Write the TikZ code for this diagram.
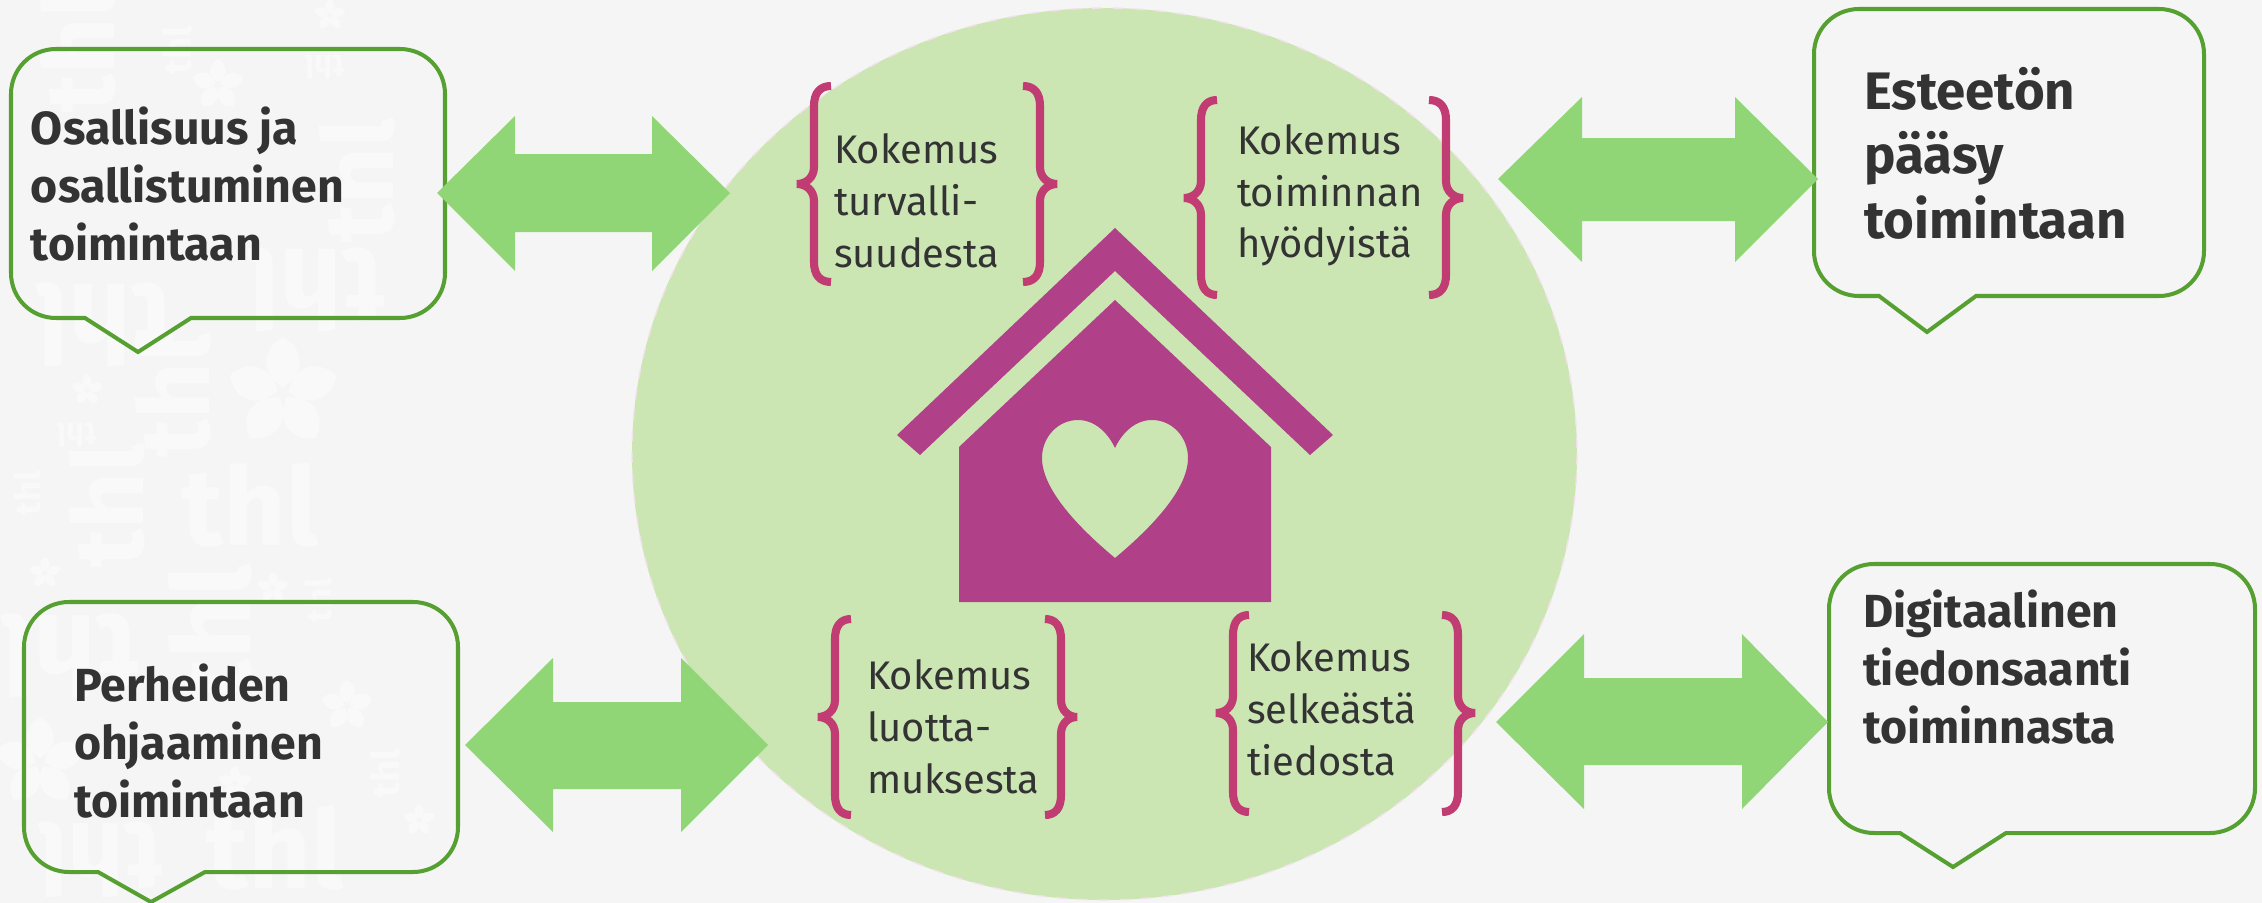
\documentclass[tikz,border=0pt]{standalone}
\usepackage{fontspec}
\setmainfont{Fira Sans}
\definecolor{pagebg}{HTML}{F5F5F5}
\definecolor{wmark}{HTML}{F9F9F9}
\definecolor{discfill}{HTML}{CBE6B3}
\definecolor{discedge}{HTML}{F3E2EC}
\definecolor{housecol}{HTML}{B04087}
\definecolor{bracecol}{HTML}{C23C74}
\definecolor{arrowcol}{HTML}{91D676}
\definecolor{bubblecol}{HTML}{55A030}
\definecolor{inkcol}{HTML}{333333}
\tikzset{
  x=0.01cm,y=-0.01cm,
  bubble/.style={draw=bubblecol,line width=1.14pt,line join=miter},
  blockarrow/.style={fill=arrowcol,draw=none},
  bracestroke/.style={draw=bracecol,line width=2.3pt,line join=bevel,line cap=butt},
  boldtext/.style={anchor=base west,inner sep=0pt,outer sep=0pt,align=left,text=inkcol,
    font=\bfseries\fontsize{13.2}{16.4}\selectfont},
  bigboldtext/.style={anchor=base west,inner sep=0pt,outer sep=0pt,align=left,text=inkcol,
    font=\bfseries\fontsize{15}{18.2}\selectfont},
  plaintext/.style={anchor=base west,inner sep=0pt,outer sep=0pt,align=left,text=inkcol,
    font=\fontsize{11.35}{14.7}\selectfont},
}
% #1 x1 #2 y1 #3 x2 #4 y2 #5 tail left #6 tail right #7 tip x #8 tip y
\newcommand{\speechbox}[8]{%
  \pgfmathsetmacro{\ra}{45}\pgfmathsetmacro{\ca}{20}%
  \pgfmathsetmacro{\xa}{#1+\ra}\pgfmathsetmacro{\xb}{#3-\ra}%
  \pgfmathsetmacro{\ya}{#2+\ra}\pgfmathsetmacro{\yb}{#4-\ra}%
  \pgfmathsetmacro{\xc}{#1+\ca}\pgfmathsetmacro{\xd}{#3-\ca}%
  \pgfmathsetmacro{\yc}{#2+\ca}\pgfmathsetmacro{\yd}{#4-\ca}%
  \draw[bubble] (#5,#4) -- (#7,#8) -- (#6,#4) -- (\xb,#4)
    .. controls (\xd,#4) and (#3,\yd) .. (#3,\yb) -- (#3,\ya)
    .. controls (#3,\yc) and (\xd,#2) .. (\xb,#2) -- (\xa,#2)
    .. controls (\xc,#2) and (#1,\yc) .. (#1,\ya) -- (#1,\yb)
    .. controls (#1,\yd) and (\xc,#4) .. (\xa,#4) -- cycle;}
% #1 left tip #2 left notch #3 right notch #4 right tip #5 mid y #6 top #7 bottom #8 shaft top #9 shaft bottom
\newcommand{\twoway}[9]{%
  \fill[blockarrow] (#1,#5) -- (#2,#6) -- (#2,#8) -- (#3,#8) -- (#3,#6) -- (#4,#5)
    -- (#3,#7) -- (#3,#9) -- (#2,#9) -- (#2,#7) -- cycle;}
% #1 end x #2 spine x #3 tip x #4 top y #5 mid y #6 bottom y
\newcommand{\curly}[6]{%
  \pgfmathsetmacro{\ha}{#2+0.35*(#1-#2)}\pgfmathsetmacro{\hb}{#2+0.5*(#3-#2)}%
  \pgfmathsetmacro{\ua}{#4+7}\pgfmathsetmacro{\ub}{#4+20}%
  \pgfmathsetmacro{\ma}{#5-17}\pgfmathsetmacro{\mb}{#5-6}%
  \pgfmathsetmacro{\mc}{#5+6}\pgfmathsetmacro{\md}{#5+17}%
  \pgfmathsetmacro{\la}{#6-20}\pgfmathsetmacro{\lb}{#6-7}%
  \draw[bracestroke] (#1,#4) .. controls (\ha,#4) and (#2,\ua) .. (#2,\ub) -- (#2,\ma)
    .. controls (#2,\mb) and (\hb,#5) .. (#3,#5)
    .. controls (\hb,#5) and (#2,\mc) .. (#2,\md) -- (#2,\la)
    .. controls (#2,\lb) and (\ha,#6) .. (#1,#6);}
\newcommand{\wm}[5]{\node[rotate=#5,inner sep=0pt,text=wmark,font=\bfseries\fontsize{#4}{#4}\selectfont] (#1) at #2 {#3};}
\newcommand{\flower}[2]{%
  \begin{scope}[shift={#1}]
    \foreach \a in {90,162,234,306,18}
      \fill[wmark,rotate=\a] (#2*0.1,0) .. controls (#2*0.35,-#2*0.42) and (#2*0.8,-#2*0.38) .. (#2,0)
        .. controls (#2*0.8,#2*0.38) and (#2*0.35,#2*0.42) .. (#2*0.1,0);
  \end{scope}}
\begin{document}
\begin{tikzpicture}
\useasboundingbox (0,0) rectangle (2262,903);
\fill[pagebg] (0,0) rectangle (2262,903);
% watermark
\wm{wa}{(250,505)}{thl}{31}{0}
\wm{wb}{(107,505)}{thl}{28}{90}
\wm{wc}{(357,180)}{thl}{28}{90}
\wm{wd}{(78,50)}{thl}{28}{90}
\wm{we}{(173,395)}{thl}{28}{90}
\wm{wf}{(316,290)}{thl}{31}{180}
\wm{wg}{(105,325)}{thl}{31}{180}
\wm{wh}{(325,67)}{thl}{9}{180}
\wm{wi}{(77,435)}{thl}{9}{180}
\wm{wj}{(177,50)}{thl}{11}{90}
\wm{wk}{(27,493)}{thl}{10}{90}
\wm{wl}{(318,600)}{thl}{10}{90}
\wm{wm}{(385,773)}{thl}{11}{90}
\wm{wn}{(210,633)}{thl}{31}{90}
\wm{wo}{(70,656)}{thl}{31}{180}
\wm{wp}{(275,848)}{thl}{31}{0}
\wm{wq}{(100,860)}{thl}{28}{180}
\flower{(283,393)}{56}
\flower{(218,85)}{26}
\flower{(330,15)}{16}
\flower{(87,390)}{16}
\flower{(347,706)}{26}
\flower{(45,573)}{16}
\flower{(273,588)}{16}
\flower{(40,763)}{45}
\flower{(235,783)}{17}
\flower{(419,820)}{16}
% disc
\path[fill=discfill,draw=discedge,dashed,line width=0.4pt] (1104.5,454) ellipse [x radius=472.5,y radius=446];
% house
\fill[housecol] (1115,228) -- (1333,435) -- (1310,455) -- (1115,271) -- (920,455) -- (897,435) -- cycle;
\fill[housecol,even odd rule] (1115,300) -- (1271,447) -- (1271,602) -- (959,602) -- (959,447) -- cycle
  (1115,558) .. controls (1085,533) and (1042,492) .. (1042,458)
  .. controls (1042,437) and (1058,420) .. (1078,420)
  .. controls (1095,420) and (1108,433) .. (1115,448)
  .. controls (1122,433) and (1135,420) .. (1152,420)
  .. controls (1172,420) and (1188,437) .. (1188,458)
  .. controls (1188,492) and (1145,533) .. (1115,558) -- cycle;
% bubbles
\speechbox{11}{49}{445}{318}{85}{191}{138}{352}
\speechbox{24}{602}{458}{872}{98}{205}{151}{902}
\speechbox{1814}{9}{2204}{296}{1879}{1976}{1927}{332}
\speechbox{1829}{564}{2255}{833}{1900}{2006}{1953}{867}
% double arrows
\twoway{437}{515}{652}{730}{193}{116}{271}{154}{232}
\twoway{465}{553}{681}{768}{745}{658}{832}{702}{789}
\twoway{1498}{1582}{1735}{1818}{179}{97}{262}{138}{221}
\twoway{1496}{1584}{1742}{1828}{722}{634}{809}{678}{765}
% braces
\curly{831}{814}{797}{86}{184}{282}
\curly{1023}{1040}{1057}{86}{184}{282}
\curly{1217}{1201}{1184}{100}{198}{295}
\curly{1429}{1446}{1463}{100}{198}{295}
\curly{851}{835}{818}{619}{717}{815}
\curly{1045}{1061}{1077}{619}{717}{815}
\curly{1249}{1233}{1216}{615}{713}{812}
\curly{1442}{1458}{1475}{615}{713}{812}
% plain labels (anchored on the last baseline)
\node[plaintext] (ka) at (834,267) {Kokemus\\turvalli-\\suudesta};
\node[plaintext] (kb) at (1237,258) {Kokemus\\toiminnan\\hyödyistä};
\node[plaintext] (kc) at (867,793) {Kokemus\\luotta-\\muksesta};
\node[plaintext] (kd) at (1247,775) {Kokemus\\selkeästä\\tiedosta};
% bubble labels
\node[boldtext] (ba) at (31,260) {Osallisuus ja\\osallistuminen\\toimintaan};
\node[boldtext] (bb) at (74,817) {Perheiden\\ohjaaminen\\toimintaan};
\node[bigboldtext] (bc) at (1864,238) {Esteetön\\pääsy\\toimintaan};
\node[boldtext] (bd) at (1863,743) {Digitaalinen\\tiedonsaanti\\toiminnasta};
\end{tikzpicture}
\end{document}
